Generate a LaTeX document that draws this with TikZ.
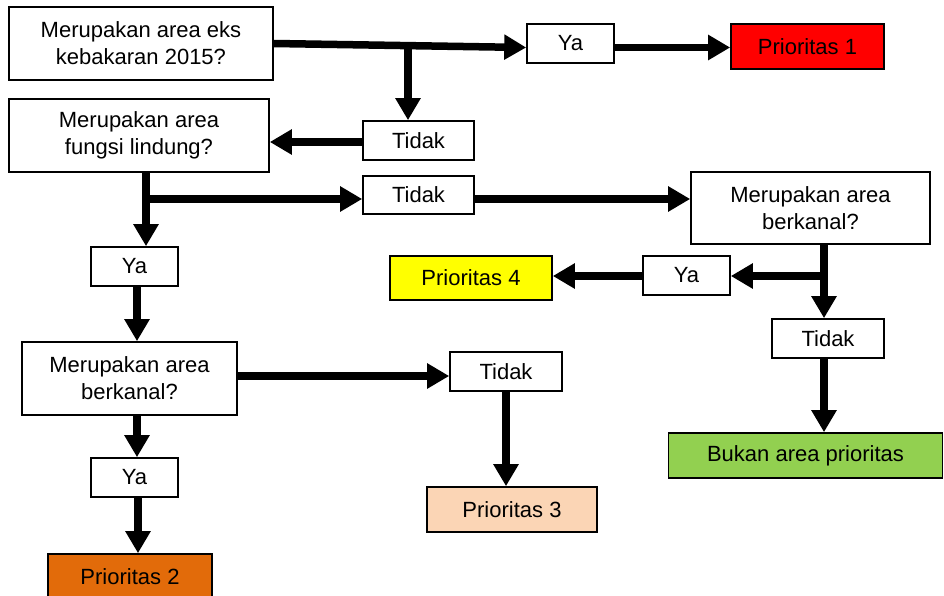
\documentclass[tikz,border=0pt]{standalone}
\usepackage{fontspec}
\setmainfont{Liberation Sans}
\usetikzlibrary{arrows.meta}
\definecolor{cred}{HTML}{FF0000}
\definecolor{cyellow}{HTML}{FFFF00}
\definecolor{cgreen}{HTML}{92D050}
\definecolor{cpeach}{HTML}{FBD5B5}
\definecolor{corange}{HTML}{E26B0A}
\begin{document}
\begin{tikzpicture}[x=1pt,y=-1pt,
 box/.style={draw=black, line width=1.6pt, fill=white, inner sep=0pt, align=center,
   font=\fontsize{22}{27}\selectfont},
 arr/.style={line width=7.5pt, -{Triangle[width=24pt,length=22pt]}}]
\useasboundingbox (0,0) rectangle (944,596);
% nodes
\node[box, minimum width=264pt, minimum height=73pt] (b1) at (141,43.5) {Merupakan area eks\\kebakaran 2015?};
\node[box, minimum width=87pt, minimum height=39pt] (ya1) at (570.5,43.5) {Ya};
\node[box, fill=cred, minimum width=153pt, minimum height=45pt] (p1) at (807.5,46.5) {Prioritas 1};
\node[box, minimum width=260pt, minimum height=73pt] (fl) at (139,135.5) {Merupakan area\\fungsi lindung?};
\node[box, minimum width=111pt, minimum height=39pt] (t1) at (418.5,140.5) {Tidak};
\node[box, minimum width=111pt, minimum height=38pt] (t2) at (418.5,195) {Tidak};
\node[box, minimum width=239pt, minimum height=72pt] (rb) at (810.5,208) {Merupakan area\\berkanal?};
\node[box, minimum width=87pt, minimum height=39pt] (yar) at (686.5,275.5) {Ya};
\node[box, fill=cyellow, minimum width=162pt, minimum height=44pt] (p4) at (471,278) {Prioritas 4};
\node[box, minimum width=112pt, minimum height=39pt] (tr) at (828,338.5) {Tidak};
\node[box, fill=cgreen, minimum width=274pt, minimum height=45pt] (bk) at (805.5,455.5) {Bukan area prioritas};
\node[box, minimum width=87pt, minimum height=39pt] (yal) at (134.5,266.5) {Ya};
\node[box, minimum width=215pt, minimum height=73pt] (lb) at (129.5,378.5) {Merupakan area\\berkanal?};
\node[box, minimum width=112pt, minimum height=39pt] (tm) at (506,371.5) {Tidak};
\node[box, minimum width=87pt, minimum height=39pt] (yab) at (134.5,477.5) {Ya};
\node[box, fill=cpeach, minimum width=170pt, minimum height=45pt] (p3) at (512,509.5) {Prioritas 3};
\node[box, fill=corange, minimum width=164pt, minimum height=45pt] (p2) at (130,576.5) {Prioritas 2};
% junction coordinates
\coordinate (j1) at (408,45);
\coordinate (ja) at (146,199);
\coordinate (jr) at (824,276);
\coordinate (jl) at (137,0);
\coordinate (jm) at (0,376);
\coordinate (jb) at (138,0);
% connectors
\draw[arr] (b1.east) -- ([yshift=-4pt]ya1.west);
\draw[arr] (j1) -- (j1 |- t1.north);
\draw[arr] ([yshift=-4pt]ya1.east) -- ([yshift=-4pt]ya1.east -| p1.west);
\draw[arr] ([yshift=-1.5pt]t1.west) -- ([yshift=-1.5pt]t1.west -| fl.east);
\draw[arr] (fl.south -| ja) -- (ja |- yal.north);
\draw[arr] (ja) -- (ja -| t2.west);
\draw[arr] (t2.east |- ja) -- (ja -| rb.west);
\draw[arr] (rb.south -| jr) -- (jr |- tr.north);
\draw[arr] (jr) -- (jr -| yar.east);
\draw[arr] (yar.west |- jr) -- (jr -| p4.east);
\draw[arr] (tr.south -| jr) -- (jr |- bk.north);
\draw[arr] (yal.south -| jl) -- (jl |- lb.north);
\draw[arr] (lb.east |- jm) -- (tm.west |- jm);
\draw[arr] (tm.south) -- (tm.south |- p3.north);
\draw[arr] (lb.south -| jl) -- (jl |- yab.north);
\draw[arr] (yab.south -| jb) -- (jb |- p2.north);
\end{tikzpicture}
\end{document}
